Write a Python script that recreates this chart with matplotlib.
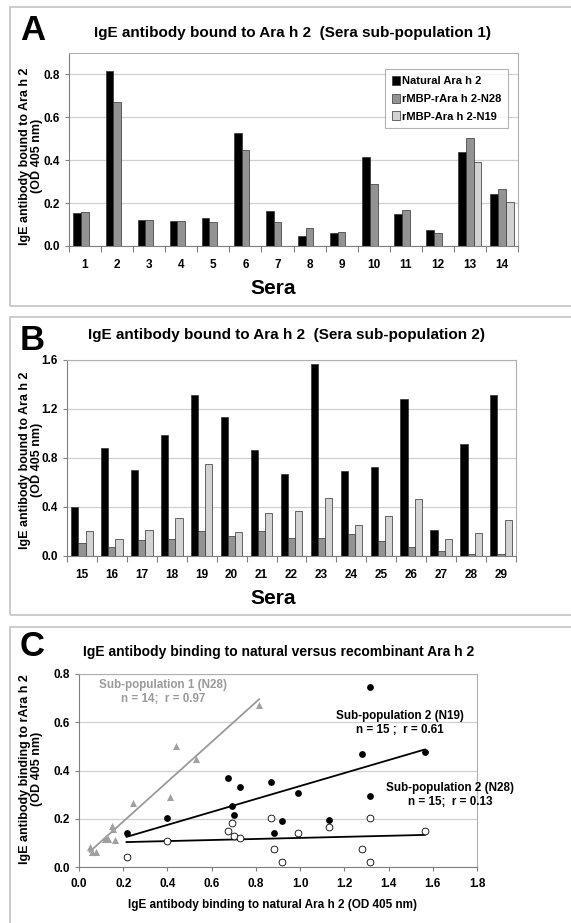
import numpy as np
import matplotlib
matplotlib.use("Agg")
import matplotlib.pyplot as plt
from matplotlib.patches import Rectangle

plt.rcParams['font.family'] = ['Liberation Sans', 'DejaVu Sans']
plt.rcParams['font.weight'] = 'bold'

# sera sub-population 1 (panel A)
sera_a = [str(i) for i in range(1, 15)]
natural_a = [0.155, 0.815, 0.120, 0.118, 0.130, 0.527, 0.163, 0.048, 0.060, 0.413, 0.148, 0.076, 0.437, 0.243]
n28_a = [0.158, 0.672, 0.122, 0.118, 0.114, 0.449, 0.110, 0.082, 0.063, 0.290, 0.168, 0.062, 0.503, 0.265]
n19_a = [np.nan] * 12 + [0.391, 0.207]

# sera sub-population 2 (panel B)
sera_b = [str(i) for i in range(15, 30)]
natural_b = [0.400, 0.883, 0.703, 0.989, 1.314, 1.131, 0.867, 0.673, 1.564, 0.690, 0.728, 1.278, 0.215, 0.918, 1.316]
n28_b = [0.109, 0.076, 0.128, 0.139, 0.202, 0.166, 0.204, 0.150, 0.150, 0.183, 0.120, 0.074, 0.041, 0.019, 0.019]
n19_b = [0.202, 0.139, 0.215, 0.308, 0.747, 0.194, 0.354, 0.368, 0.477, 0.251, 0.330, 0.469, 0.139, 0.191, 0.294]

series_names = ['Natural Ara h 2', 'rMBP-rAra h 2-N28', 'rMBP-Ara h 2-N19']
series_colors = ['#000000', '#939393', '#d2d2d2']

W, H = 571, 923
fig = plt.figure(figsize=(W / 100, H / 100), dpi=100)


def box(l, t, r, b):
    # pixel box -> figure fraction rect
    return [l / W, 1 - b / H, (r - l) / W, (b - t) / H]


def ftext(x, y, s, **kw):
    fig.text(x / W, 1 - y / H, s, **kw)


# panel frames
for t, b in [(7, 306), (317, 615), (627, 935)]:
    fig.patches.append(Rectangle((10 / W, 1 - b / H), (W + 10) / W, (b - t) / H,
                                 transform=fig.transFigure, fill=False,
                                 edgecolor='#c4c4c4', linewidth=1.2))


def style_axes(ax):
    ax.set_facecolor('white')
    ax.grid(axis='y', color='#d0d0d0', linewidth=0.9)
    ax.set_axisbelow(True)
    for s in ['top', 'right']:
        ax.spines[s].set_color('#b0b0b0')
    for s in ['left', 'bottom']:
        ax.spines[s].set_color('#808080')
    ax.tick_params(axis='both', colors='#808080', labelcolor='black',
                   labelsize=8.5, length=3, width=0.8)


def bar_panel(rect, cats, series, ymax, yticks):
    ax = fig.add_axes(rect)
    x = np.arange(len(cats))
    w = 0.24
    for k, (vals, name, c) in enumerate(zip(series, series_names, series_colors)):
        ax.bar(x + (k - 1) * w, vals, w, color=c, edgecolor='#303030',
               linewidth=0.5, label=name)
    ax.set_xlim(-0.5, len(cats) - 0.5)
    ax.set_ylim(0, ymax)
    ax.set_yticks(yticks)
    ax.set_yticklabels([f'{v:.1f}' for v in yticks])
    ax.set_xticks(x)
    ax.set_xticklabels(cats)
    ax.set_xticks(np.arange(len(cats) + 1) - 0.5, minor=True)
    style_axes(ax)
    ax.tick_params(axis='x', which='major', length=0, pad=9)
    ax.tick_params(axis='x', which='minor', length=4, colors='#808080', width=0.8)
    return ax


ylab_kw = dict(fontsize=9, fontweight='bold', rotation=90, ha='center', va='center',
               multialignment='center', linespacing=1.05)
title_kw = dict(fontsize=11, fontweight='bold', ha='center', va='center')
letter_kw = dict(fontsize=25, fontweight='bold', ha='left', va='center')

# Panel A
axA = bar_panel(box(69, 53, 518, 246), sera_a, [natural_a, n28_a, n19_a],
                0.9, [0.0, 0.2, 0.4, 0.6, 0.8])
leg = axA.legend(loc='upper right', bbox_to_anchor=(0.99, 0.945), fontsize=8,
                 frameon=True, fancybox=False, edgecolor='#a0a0a0',
                 handlelength=0.7, handleheight=0.9, handletextpad=0.2,
                 labelspacing=0.65, borderpad=0.6)
leg.get_frame().set_linewidth(0.8)

ftext(20, 31, 'A', **letter_kw)
ftext(292, 33, 'IgE antibody bound to Ara h 2  (Sera sub-population 1)', **title_kw)
ftext(31, 156, 'IgE antibody bound to Ara h 2\n(OD 405 nm)', **ylab_kw)
ftext(273, 289, 'Sera', fontsize=15, fontweight='bold', ha='center', va='center')

# Panel B
axB = bar_panel(box(67, 360, 516, 556), sera_b, [natural_b, n28_b, n19_b],
                1.6, [0.0, 0.4, 0.8, 1.2, 1.6])
ftext(20, 341, 'B', **letter_kw)
ftext(287, 335, 'IgE antibody bound to Ara h 2  (Sera sub-population 2)', **title_kw)
ftext(31, 460, 'IgE antibody bound to Ara h 2\n(OD 405 nm)', **ylab_kw)
ftext(273, 598, 'Sera', fontsize=15, fontweight='bold', ha='center', va='center')

# Panel C
axC = fig.add_axes(box(79, 674, 477, 867))
style_axes(axC)
axC.set_xlim(0, 1.8)
axC.set_ylim(0, 0.8)
axC.set_xticks(np.arange(0, 1.81, 0.2))
axC.set_xticklabels([f'{v:.1f}' for v in np.arange(0, 1.81, 0.2)])
axC.set_yticks(np.arange(0, 0.81, 0.2))
axC.set_yticklabels([f'{v:.1f}' for v in np.arange(0, 0.81, 0.2)])
axC.tick_params(axis='x', pad=5)

groups = [
    (natural_a, n28_a, dict(marker='^', color='#a0a0a0', s=26, linewidths=0), '#9a9a9a'),
    (natural_b, n19_b, dict(marker='o', color='black', s=24, linewidths=0), 'black'),
    (natural_b, n28_b, dict(marker='o', facecolor='white', edgecolor='black', s=24,
                           linewidths=0.6), 'black'),
]
for xs, ys, mk, lc in groups:
    xs = np.array(xs)
    ys = np.array(ys)
    axC.scatter(xs, ys, zorder=3, clip_on=False, **mk)
    p = np.polyfit(xs, ys, 1)
    xl = np.array([xs.min(), xs.max()])
    axC.plot(xl, np.polyval(p, xl), color=lc, linewidth=1.3, zorder=2)

ann_kw = dict(fontsize=8.4, fontweight='bold', ha='center', va='center', linespacing=1.3)
axC.text(0.38, 0.726, 'Sub-population 1 (N28)\nn = 14;  r = 0.97', color='#9a9a9a', **ann_kw)
axC.text(1.45, 0.597, 'Sub-population 2 (N19)\nn = 15 ;  r = 0.61', color='black', **ann_kw)
axC.text(1.68, 0.298, 'Sub-population 2 (N28)\nn = 15;  r = 0.13', color='black',
         clip_on=False, **ann_kw)

ftext(20, 647, 'C', **letter_kw)
ftext(279, 652, 'IgE antibody binding to natural versus recombinant Ara h 2',
      fontsize=10, fontweight='bold', ha='center', va='center')
ftext(31, 769, 'IgE antibody binding to rAra h 2\n(OD 405 nm)', **ylab_kw)
ftext(272, 905, 'IgE antibody binding to natural Ara h 2 (OD 405 nm)', fontsize=8.5,
      fontweight='bold', ha='center', va='center')

fig.savefig('out.png', dpi=100, facecolor='white')
